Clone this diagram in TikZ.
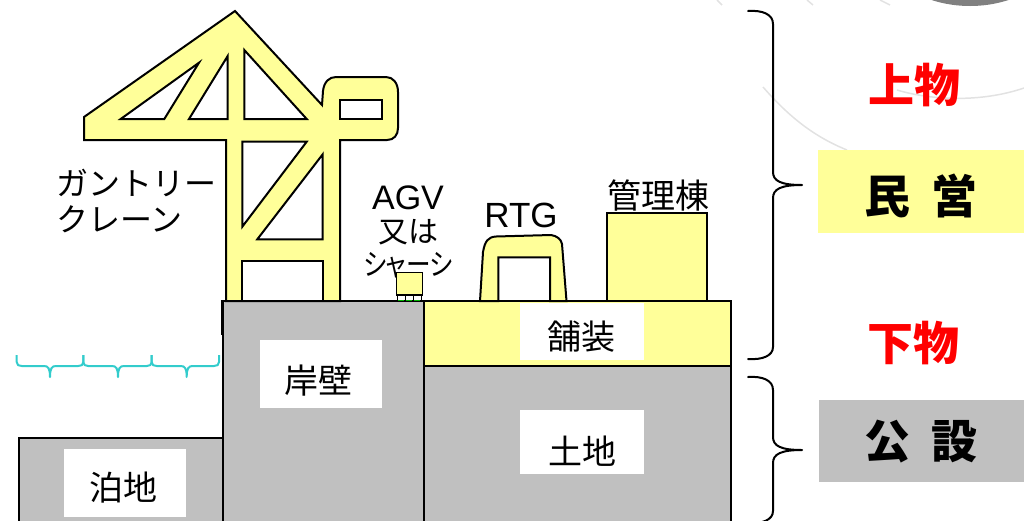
\documentclass[tikz,border=0pt]{standalone}
\usepackage{graphicx}
\usepackage{fontspec}
\setmainfont{Liberation Sans}
\newfontfamily\jp{Noto Sans CJK JP}
\newfontfamily\jpp[RawFeature=+palt]{Noto Sans CJK JP}
\definecolor{paleyellow}{HTML}{FFFF99}
\definecolor{groundgray}{HTML}{C0C0C0}
\definecolor{wavecyan}{HTML}{33CCCC}
\definecolor{faintarc}{HTML}{E2E2E2}
\definecolor{discgray}{HTML}{808080}

\begin{document}
\begin{tikzpicture}[x=1pt,y=-1pt,
  outline/.style={draw=black,line width=2pt,line join=miter},
  yel/.style={outline,fill=paleyellow},
  gnd/.style={outline,fill=groundgray},
  hole/.style={outline,fill=white},
  tagbox/.style={fill=white,inner sep=0pt,draw=none},
  lbl/.style={font=\jp\fontsize{34}{36}\selectfont,inner sep=0pt},
  big/.style={font=\jp\bfseries\fontsize{46}{48}\selectfont,inner sep=0pt},
  bracepath/.style={draw=black,line width=2pt,line cap=round,line join=round},
]
\useasboundingbox (0,0) rectangle (1024,520);
\begin{scope}
\clip (0,0) rectangle (1024,520);

% faint background arcs and disc in the upper right corner
\fill[discgray] (970,-120) circle (126);
\begin{scope}[faintarc,line width=1.5pt]
  \draw (763,87) .. controls (790,118) and (815,137) .. (847,150);
  \draw (897,90) .. controls (930,100) and (980,103) .. (1024,88);
  \draw (717,0) -- (722,5);
  \draw (807,0) -- (813,5);
  \draw (880,0) -- (890,5);
\end{scope}

% ground: berth, quay wall, pavement, land
\draw[gnd] (19,438.3) rectangle (222.7,530);
\draw[gnd] (222.7,301) rectangle (424.3,530);
\draw[yel] (424.3,301) rectangle (730.7,366);
\draw[gnd] (424.3,366) rectangle (730.7,530);
\draw[black,line width=3.5pt] (222.5,300) -- (222.5,335);

% water surface
\foreach \a/\m/\b in {16.7/50/83.3, 83.3/118/151.7, 151.7/186.7/219}
  \draw[wavecyan,line width=2pt,line join=round]
    (\a,355) -- (\a,362) .. controls (\a,365) and (\a+2,366) .. (\a+5,366)
    -- (\m-6,366) .. controls (\m-2,366) and (\m,368) .. (\m,377)
    .. controls (\m,368) and (\m+2,366) .. (\m+6,366)
    -- (\b-5,366) .. controls (\b-2,366) and (\b,365) .. (\b,362) -- (\b,355);

% gantry crane
\draw[yel] (235,11) -- (322,105) -- (323,91) .. controls (324,82) and (329,77) .. (336,77)
  -- (386,77) .. controls (393,77) and (398,83) .. (398,92) -- (398,128)
  .. controls (398,135) and (394,140) .. (387,140) -- (340,140) -- (340,301)
  -- (226,301) -- (226,140) -- (84,140) -- (84,117) -- cycle;
\draw[hole] (120.7,119) -- (199,62.7) -- (164.3,119) -- cycle;
\draw[hole] (189,119) -- (227.7,56) -- (227.7,119) -- cycle;
\draw[hole] (244.3,50) -- (244.3,119) -- (306.7,119) -- cycle;
\draw[hole] (340,100) rectangle (381.7,119);
\draw[hole] (242.3,141.7) -- (306.7,141.7) -- (242.3,226.7) -- cycle;
\draw[hole] (322.7,154.3) -- (322.7,239.3) -- (257.3,239.3) -- cycle;
\draw[hole] (242.3,261) rectangle (322.7,301);

% AGV / chassis
\draw[yel,line width=1.5pt] (396.7,272.7) rectangle (422.7,295);
\foreach \x in {397.5,405.5,413.5}
  \draw[black,line width=1pt,fill=white] (\x,295) rectangle (\x+8,300);
\foreach \x in {398,406,414}
  \draw[green!70!black,line width=1pt] (\x,300) -- (\x+6,300);

% RTG
\draw[yel] (480,301) -- (483,252) .. controls (485,241) and (488,237) .. (496,236.5)
  -- (551,235) .. controls (557,236) and (561,239) .. (562,244) -- (566.5,301)
  -- (550,301) -- (550,257.3) -- (498.3,257.3) -- (498.3,301) -- cycle;

% administration building
\draw[yel] (606.7,213.3) rectangle (706.7,301);

% label boxes and labels
\node[tagbox,minimum width=121.7pt,minimum height=67.7pt] (quaybox) at (320.8,373.8) {};
\node[lbl] (quay) at (318,381) {岸壁};
\node[tagbox,minimum width=121.7pt,minimum height=67.7pt] (berthbox) at (124.8,482.8) {};
\node[lbl] (berth) at (123,488) {泊地};
\node[tagbox,minimum width=124pt,minimum height=56.7pt] (pavebox) at (582,331.7) {};
\node[lbl] (pave) at (581,337) {舗装};
\node[tagbox,minimum width=124pt,minimum height=64.3pt] (landbox) at (582,442.2) {};
\node[lbl] (land) at (582,451) {土地};

\node[font=\jp\fontsize{32}{36}\selectfont,align=left,anchor=west,inner sep=0pt]
  (cranelbl) at (56,201) {ガントリー\\クレーン};
\node[font=\jpp\fontsize{30}{33}\selectfont,align=center,inner sep=0pt]
  (agvlbl) at (408,232) {{\rmfamily\fontsize{34}{33}\selectfont AGV}\\又は\\\scalebox{0.82}[1]{シャーシ}};
\node[font=\fontsize{35}{36}\selectfont,inner sep=0pt] (rtglbl) at (521,215) {RTG};
\node[lbl] (bldglbl) at (658,196) {管理棟};

% right-hand classification
\node[big,text=red] (upper) at (914,85) {上物};
\node[big,text=red] (lower) at (913,343) {下物};
\node[fill=paleyellow,inner sep=0pt,minimum width=210pt,minimum height=82.3pt,anchor=north west]
  (privbox) at (817.3,150) {};
\node[big] (priv) at (921,196) {民\hspace{0.45em}営};
\node[fill=groundgray,inner sep=0pt,minimum width=210pt,minimum height=82.4pt,anchor=north west]
  (pubbox) at (819,399.3) {};
\node[big] (pub) at (921,442) {公\hspace{0.45em}設};

% braces
\draw[bracepath] (748,11) .. controls (762,10) and (773,14) .. (773,24) -- (773,172)
  .. controls (773,181) and (781,185) .. (802,185)
  .. controls (781,185) and (773,189) .. (773,198) -- (773,347)
  .. controls (773,356) and (762,360) .. (748,359);
\draw[bracepath] (748,377) .. controls (762,376) and (773,380) .. (773,390) -- (773,437)
  .. controls (773,446) and (781,450) .. (802,450)
  .. controls (781,450) and (773,454) .. (773,463) -- (773,511)
  .. controls (773,520) and (762,524) .. (748,523);
\end{scope}
\end{tikzpicture}
\end{document}
